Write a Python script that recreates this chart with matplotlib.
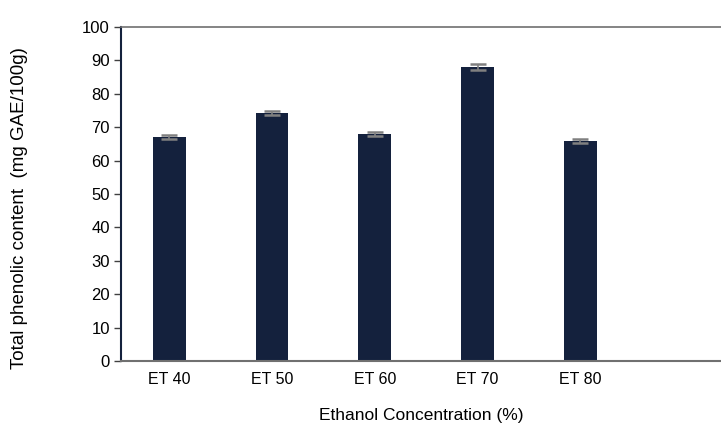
import matplotlib.pyplot as plt

# chart data
categories = ["ET 40", "ET 50", "ET 60", "ET 70", "ET 80"]
phenolic = [67.0, 74.4, 67.9, 88.0, 65.9]
errors = [0.6, 0.6, 0.6, 0.8, 0.6]
yticks = [0, 10, 20, 30, 40, 50, 60, 70, 80, 90, 100]

plt.rcParams['font.family'] = ['Liberation Sans', 'DejaVu Sans']

fig = plt.figure(figsize=(7.21, 4.42), dpi=100)
ax = fig.add_axes([121/721, (442-361)/442, 1 - 121/721, (361-27)/442])

x = range(len(categories))
ax.bar(x, phenolic, width=0.32, color='#14213d', zorder=2)
ax.errorbar(x, phenolic, yerr=errors, fmt='none', ecolor='#808080',
            elinewidth=1.2, capsize=6, capthick=1.8, zorder=3)

ax.set_xlim(-0.47, 5.37)
ax.set_ylim(0, 100)
ax.set_yticks(yticks)
ax.set_xticks(list(x))
ax.set_xticklabels(categories)
ax.tick_params(axis='x', length=0, pad=8, labelsize=11.5)
ax.tick_params(axis='y', length=5, width=1, color='#404040', labelsize=12, pad=3)

ax.spines['left'].set_color('#14213d')
ax.spines['left'].set_linewidth(1.5)
ax.spines['bottom'].set_color('#707070')
ax.spines['bottom'].set_linewidth(1.5)
ax.spines['top'].set_color('#707070')
ax.spines['top'].set_linewidth(1.2)
ax.spines['right'].set_visible(False)

ax.set_xlabel("Ethanol Concentration (%)", fontsize=12.5, labelpad=15)
# y label sits a bit lower than the axis middle in the original
fig.text(20/721, 1 - 208/442, "Total phenolic content  (mg GAE/100g)",
         rotation=90, ha='center', va='center', fontsize=13.5)

fig.savefig("out.png", dpi=100)
